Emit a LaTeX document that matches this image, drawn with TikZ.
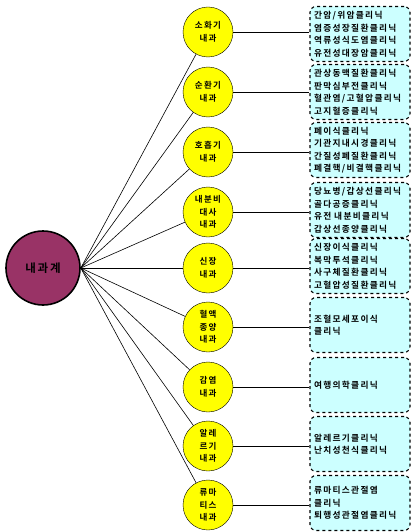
\documentclass[tikz,border=0pt]{standalone}
\usepackage{fontspec}
\setmainfont{Noto Sans CJK KR}[BoldFont={Noto Sans CJK KR Bold},LetterSpace=15]
\usepackage{tikz}
\usetikzlibrary{arrows}

\definecolor{hubred}{HTML}{993366}
\definecolor{deptyellow}{HTML}{FFFF00}
\definecolor{clinicblue}{HTML}{CCFFFF}

\begin{document}
\begin{tikzpicture}[x=1pt,y=-1pt]

\tikzset{hub/.style = {shape=circle,draw,line width=1.6pt,fill=hubred,minimum size=74pt,inner sep=0pt,font=\bfseries\fontsize{11.5}{13}\selectfont}}
\tikzset{dept/.style = {shape=circle,draw,fill=deptyellow,minimum size=50pt,inner sep=0pt,align=center,font=\bfseries\fontsize{8.5}{12.5}\selectfont}}
\tikzset{clinic/.style = {shape=rectangle,draw,dashed,line width=1.1pt,rounded corners=6pt,fill=clinicblue,minimum width=100pt,minimum height=55pt,text width=92pt,align=left,inner xsep=4pt,font=\bfseries\fontsize{8.7}{12.5}\selectfont}}
\tikzset{edge/.style = {line width=0.6pt}}

\useasboundingbox (0,0) rectangle (412,532);

% root
\node[hub] (int) at (43,268) {내과계};

% departments
\node[dept] (gi) at (208,32) {소화기\\내과};
\node[dept] (cardio) at (208,92) {순환기\\내과};
\node[dept] (pulmo) at (208,152) {호흡기\\내과};
\node[dept] (endo) at (208,212) {내분비\\대사\\내과};
\node[dept] (nephro) at (208,268) {신장\\내과};
\node[dept] (hemato) at (208,327) {혈액\\종양\\내과};
\node[dept] (infect) at (208,387) {감염\\내과};
\node[dept] (allergy) at (208,446) {알레\\르기\\내과};
\node[dept] (rheuma) at (208,505) {류마\\티스\\내과};

% clinics
\node[clinic] (gic) at (360,34) {간암/위암클리닉\\염증성장질환클리닉\\역류성식도염클리닉\\유전성대장암클리닉};
\node[clinic] (cardioc) at (360,92) {관상동맥질환클리닉\\판막심부전클리닉\\혈관염/고혈압클리닉\\고지혈증클리닉};
\node[clinic] (pulmoc) at (360,150) {폐이식클리닉\\기관지내시경클리닉\\간질성폐질환클리닉\\폐결핵/비결핵클리닉};
\node[clinic] (endoc) at (360,210) {당뇨병/갑상선클리닉\\골다공증클리닉\\유전 내분비클리닉\\갑상선종양클리닉};
\node[clinic] (nephroc) at (360,266) {신장이식클리닉\\복막투석클리닉\\사구체질환클리닉\\고혈압성질환클리닉};
\node[clinic] (hematoc) at (360,325) {조혈모세포이식\\클리닉};
\node[clinic] (infectc) at (360,385) {여행의학클리닉};
\node[clinic] (allergyc) at (360,444) {알레르기클리닉\\난치성천식클리닉};
\node[clinic] (rheumac) at (360,503) {류마티스관절염\\클리닉\\퇴행성관절염클리닉};

% root to departments
\foreach \d in {gi,cardio,pulmo,endo,nephro,hemato,infect,allergy,rheuma}
  \draw[edge] (int.east) to (\d);

% departments to clinics
\draw[edge] (gi) to (gi -| gic.west);
\draw[edge] (cardio) to (cardio -| cardioc.west);
\draw[edge] (pulmo) to (pulmo -| pulmoc.west);
\draw[edge] (endo) to (endo -| endoc.west);
\draw[edge] (nephro) to (nephro -| nephroc.west);
\draw[edge] (hemato) to (hemato -| hematoc.west);
\draw[edge] (infect) to (infect -| infectc.west);
\draw[edge] (allergy) to (allergy -| allergyc.west);
\draw[edge] (rheuma) to (rheuma -| rheumac.west);

\end{tikzpicture}
\end{document}
